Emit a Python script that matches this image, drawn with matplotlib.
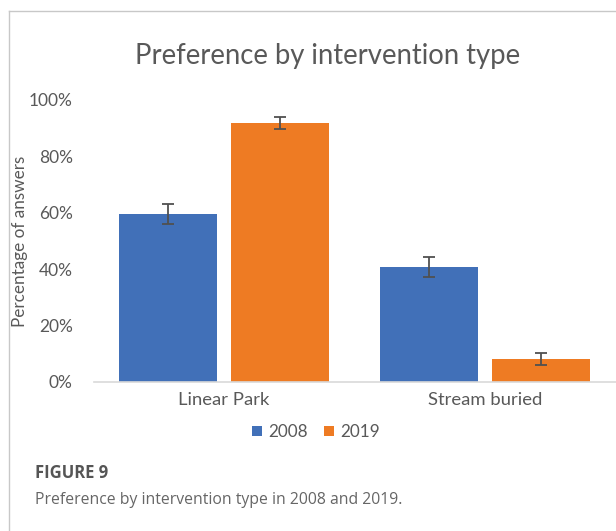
import matplotlib
matplotlib.use("Agg")
import matplotlib.pyplot as plt
import numpy as np
from matplotlib.lines import Line2D
from matplotlib.ticker import PercentFormatter

categories = ["Linear Park", "Stream buried"]
series_names = ["2008", "2019"]
values_2008 = [0.595, 0.408]
values_2019 = [0.918, 0.082]
err_2008 = [0.035, 0.037]
err_2019 = [0.022, 0.021]
yticks = [0, 0.2, 0.4, 0.6, 0.8, 1.0]

plt.rcParams['font.family'] = ['Lato', 'DejaVu Sans']

W, H = 616, 531
fig = plt.figure(figsize=(W / 100, H / 100), dpi=100)

# outer frame lines
fig.add_artist(Line2D([8.5 / W, 8.5 / W], [0, 1 - 11 / H], transform=fig.transFigure, color='#c8c8c8', lw=1))
fig.add_artist(Line2D([8.5 / W, 1], [1 - 11 / H, 1 - 11 / H], transform=fig.transFigure, color='#c8c8c8', lw=1))

left, right, top, bottom = 93.5, 615.5, 100, 382
ax = fig.add_axes([left / W, 1 - bottom / H, (right - left) / W, (bottom - top) / H])

x = np.arange(len(categories))
bw = 0.375
gap = 0.055
blue = '#4170B8'
orange = '#EE7B23'
ekw = dict(ecolor='#505050', elinewidth=1.3, capsize=4.5, capthick=1.3)
ax.bar(x - (bw + gap) / 2, values_2008, bw, color=blue, label=series_names[0],
       yerr=err_2008, error_kw=ekw)
ax.bar(x + (bw + gap) / 2, values_2019, bw, color=orange, label=series_names[1],
       yerr=err_2019, error_kw=ekw)

ax.set_xlim(-0.5, len(categories) - 0.5)
ax.set_ylim(0, 1.0)
ax.set_yticks(yticks)
ax.yaxis.set_major_formatter(PercentFormatter(1.0, decimals=0))
ax.set_xticks(x)
ax.set_xticklabels(categories)
for s in ['top', 'right', 'left']:
    ax.spines[s].set_visible(False)
ax.spines['bottom'].set_color('#d9d9d9')
ax.spines['bottom'].set_linewidth(1.2)
ax.tick_params(axis='both', length=0, colors='#595959')
ax.tick_params(axis='y', pad=15, labelsize=12.5)
ax.tick_params(axis='x', pad=7, labelsize=13.3)
ax.set_ylabel('Percentage of answers', fontsize=12.3, color='#595959')
ax.yaxis.set_label_coords((28 - left) / (right - left), 0.5)

fig.text(328 / W, 1 - 56 / H, 'Preference by intervention type', ha='center', va='center',
         fontsize=19.8, color='#595959')

leg = fig.legend(loc='center', bbox_to_anchor=(316 / W, 1 - 432 / H), ncol=2, frameon=False,
                 fontsize=12.3, handlelength=0.6, handleheight=0.6, handletextpad=0.4,
                 columnspacing=0.9, labelcolor='#595959')

fig.text(35 / W, 1 - 473 / H, 'FIGURE 9', ha='left', va='center', fontsize=12,
         fontweight='bold', color='#555555', family=['Open Sans', 'DejaVu Sans'])
fig.text(35 / W, 1 - 500 / H, 'Preference by intervention type in 2008 and 2019.', ha='left',
         va='center', fontsize=11.3, color='#666666', family=['Open Sans', 'DejaVu Sans'])

fig.savefig('out.png', dpi=100)
